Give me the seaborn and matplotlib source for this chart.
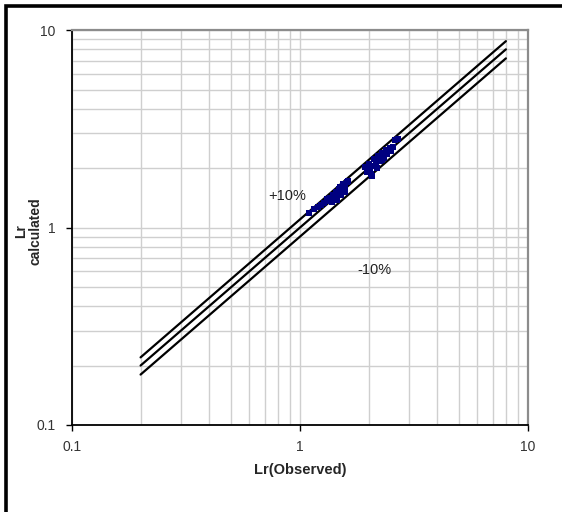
import numpy as np
import pandas as pd
import matplotlib
matplotlib.use("Agg")
import matplotlib.pyplot as plt
import seaborn as sns
from matplotlib.ticker import FixedLocator, FixedFormatter, LogLocator, NullFormatter
from matplotlib.patches import Rectangle

# Observed vs calculated Lr
lr_observed = [1.09, 1.15, 1.20, 1.24, 1.28, 1.31, 1.33, 1.35, 1.37, 1.40, 1.42,
               1.44, 1.46, 1.48, 1.50, 1.52, 1.54, 1.57, 1.60, 1.63, 1.38, 1.45,
               1.52, 1.58, 1.92, 1.96, 2.00, 2.03, 2.06, 2.08, 2.12, 2.15, 2.20,
               2.24, 2.28, 2.33, 2.38, 2.42, 2.47, 2.52, 2.57, 2.62, 2.70, 2.05,
               2.18, 2.30]
lr_calculated = [1.19, 1.24, 1.27, 1.30, 1.33, 1.39, 1.36, 1.42, 1.40, 1.47, 1.44,
                 1.52, 1.49, 1.56, 1.60, 1.58, 1.66, 1.63, 1.70, 1.73, 1.34, 1.38,
                 1.47, 1.52, 2.02, 1.92, 2.10, 1.98, 2.05, 1.83, 2.22, 2.10, 2.30,
                 2.18, 2.40, 2.26, 2.47, 2.35, 2.52, 2.45, 2.57, 2.78, 2.80, 1.86,
                 2.00, 2.20]

# Reference lines: y = x and +/-10 %
line_x = [0.2, 8.0]
band_factors = [1.1, 1.0, 0.9]
band_labels = ["+10%", "-10%"]

tick_values = [0.1, 1, 10]
tick_labels = ["0.1", "1", "10"]

sns.set_theme(style="white")
plt.rcParams["font.family"] = ["Liberation Sans", "DejaVu Sans"]

fig = plt.figure(figsize=(5.62, 5.12), dpi=100)
ax = fig.add_axes([0.128, 0.170, 0.8115, 0.771])

df = pd.DataFrame({"observed": lr_observed, "calculated": lr_calculated})

for f in band_factors:
    xs = np.array(line_x)
    sns.lineplot(x=xs, y=xs * f, ax=ax, color="black", lw=1.6, zorder=3)

sns.scatterplot(data=df, x="observed", y="calculated", ax=ax, marker="s",
                s=16, color="#000080", edgecolor="#000080", linewidth=0, zorder=4)

ax.set_xscale("log")
ax.set_yscale("log")
ax.set_xlim(0.1, 10)
ax.set_ylim(0.1, 10)

ax.xaxis.set_major_locator(FixedLocator(tick_values))
ax.xaxis.set_major_formatter(FixedFormatter(tick_labels))
ax.yaxis.set_major_locator(FixedLocator(tick_values))
ax.yaxis.set_major_formatter(FixedFormatter(tick_labels))
for axis in (ax.xaxis, ax.yaxis):
    axis.set_minor_locator(LogLocator(base=10, subs=np.arange(2, 10)))
    axis.set_minor_formatter(NullFormatter())

ax.grid(True, which="both", color="#cfcfcf", lw=1.0, zorder=0)
ax.set_axisbelow(True)

ax.tick_params(which="major", direction="out", length=4, width=1, color="black",
               labelsize=10, labelcolor="#333333", bottom=True, left=True)
ax.tick_params(axis="x", which="major", pad=7)
ax.tick_params(axis="y", which="major", pad=8)
ax.tick_params(which="minor", length=0)

for side in ("left", "bottom"):
    ax.spines[side].set_color("black")
    ax.spines[side].set_linewidth(1.3)
for side in ("top", "right"):
    ax.spines[side].set_color("#8c8c8c")
    ax.spines[side].set_linewidth(1.6)

ax.set_xlabel("Lr(Observed)", fontsize=10.5, fontweight="bold", labelpad=6)
ax.set_ylabel("Lr\ncalculated", fontsize=10, fontweight="bold",
              linespacing=1.0)
ax.yaxis.label.set_va("center")
ax.yaxis.set_label_coords(-0.096, 0.49)

ax.text(0.88, 1.45, band_labels[0], fontsize=10.5, color="#222222",
        ha="center", va="center")
ax.text(2.13, 0.61, band_labels[1], fontsize=10.5, color="#222222",
        ha="center", va="center")

# Outer frame of the figure
fig.patches.append(Rectangle((0.011, -0.1), 1.2, 1.088, transform=fig.transFigure,
                             fill=False, edgecolor="black", lw=2.6))

fig.savefig("out.png", dpi=100)
